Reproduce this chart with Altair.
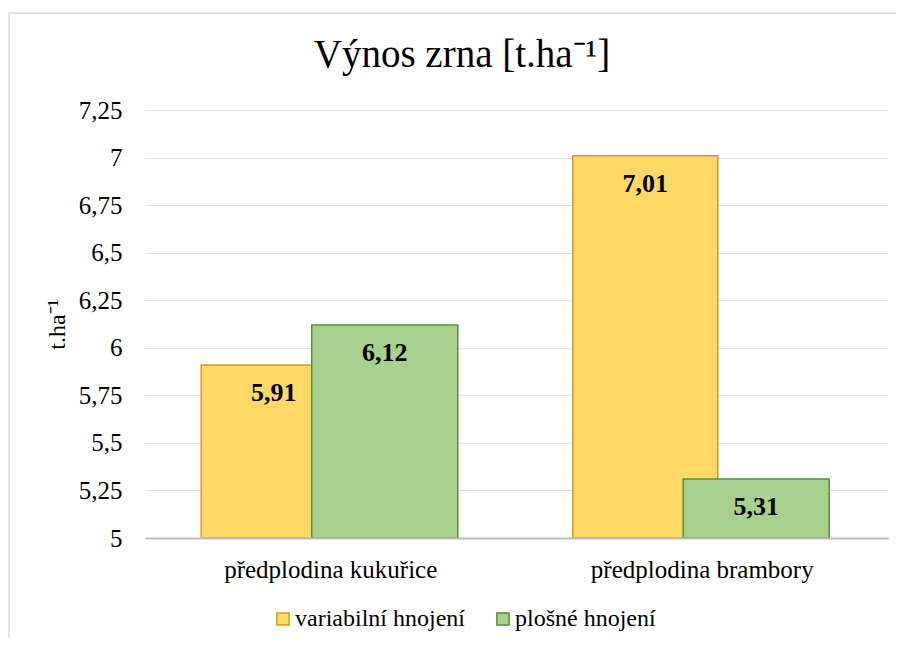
import altair as alt
import pandas as pd

title_text = "Výnos zrna [t.ha⁻¹]"
y_title = "t.ha⁻¹"
categories = ["předplodina kukuřice", "předplodina brambory"]
series = ["variabilní hnojení", "plošné hnojení"]
variabilni = [5.91, 7.01]
plosne = [6.12, 5.31]
fills = ["#FFD966", "#A9D18E"]
strokes = ["#C9A01A", "#5B8C3A"]
y_ticks = [5, 5.25, 5.5, 5.75, 6, 6.25, 6.5, 6.75, 7, 7.25]

rows = []
for s, vals in zip(series, [variabilni, plosne]):
    for c, v in zip(categories, vals):
        rows.append({"kategorie": c, "rada": s, "hodnota": v,
                     "popisek": f"{v:.2f}".replace(".", ",")})
df = pd.DataFrame(rows)

FONT = "Liberation Serif"

x_enc = alt.X("kategorie:N", sort=categories,
              scale=alt.Scale(paddingInner=0, paddingOuter=0),
              axis=alt.Axis(title=None, labelAngle=0, ticks=False, domain=True,
                            domainColor="#bfbfbf", domainWidth=2, zindex=1,
                            labelFont=FONT, labelFontSize=25, labelColor="#000000",
                            labelPadding=19, labelLimit=0))
y_enc = alt.Y("hodnota:Q",
              scale=alt.Scale(domain=[5, 7.25], zero=False, nice=False),
              axis=alt.Axis(values=y_ticks, title=y_title,
                            labelExpr="replace(format(datum.value, '.2~f'), '.', ',')",
                            ticks=False, domain=False, grid=True,
                            gridColor="#e0e0e0", gridWidth=1,
                            labelFont=FONT, labelFontSize=25, labelColor="#000000",
                            labelPadding=23,
                            titleFont=FONT, titleFontSize=24, titleFontWeight="normal",
                            titleColor="#000000", titleX=-88, titleY=214,
                            titleAngle=270, titleAlign="center", titleBaseline="middle"))

legend = alt.Legend(orient="none", legendX=126, legendY=497, direction="horizontal",
                    title=None, symbolType="square", symbolSize=150,
                    symbolStrokeWidth=1.5, labelFont=FONT, labelFontSize=24,
                    labelColor="#000000", columnPadding=26, labelOffset=0,
                    labelLimit=0)
fill_enc = alt.Fill("rada:N", scale=alt.Scale(domain=series, range=fills), legend=legend)
stroke_enc = alt.Stroke("rada:N", scale=alt.Scale(domain=series, range=strokes), legend=legend)

base = alt.Chart(df)
one = alt.Chart(pd.DataFrame({"a": [0]}))

frame = one.mark_rect(
    fill="transparent", stroke="#d9d9d9", strokeWidth=1.5
).encode(x=alt.value(-136), x2=alt.value(900), y=alt.value(-97), y2=alt.value(700))

title = one.mark_text(
    font=FONT, fontSize=39, color="#000000", align="center", baseline="alphabetic"
).encode(x=alt.value(317), y=alt.value(-43), text=alt.value(title_text))

bars_v = base.transform_filter(alt.datum.rada == series[0]).mark_bar(
    width=145, xOffset=-57, strokeWidth=1.5
).encode(x=x_enc, y=y_enc, y2=alt.datum(5), fill=fill_enc, stroke=stroke_enc)

bars_p = base.transform_filter(alt.datum.rada == series[1]).mark_bar(
    width=146, xOffset=54, strokeWidth=1.5
).encode(x=x_enc, y=y_enc, y2=alt.datum(5), fill=fill_enc, stroke=stroke_enc)

text_v = base.transform_filter(alt.datum.rada == series[0]).mark_text(
    xOffset=-57, dy=28, font=FONT, fontSize=26, fontWeight="bold", color="#000000",
    baseline="middle"
).encode(x=x_enc, y=y_enc, text="popisek:N")

text_p = base.transform_filter(alt.datum.rada == series[1]).mark_text(
    xOffset=54, dy=28, font=FONT, fontSize=26, fontWeight="bold", color="#000000",
    baseline="middle"
).encode(x=x_enc, y=y_enc, text="popisek:N")

chart = alt.layer(frame, title, bars_v, bars_p, text_v, text_p).properties(
    width=743, height=428,
    autosize=alt.AutoSizeParams(type="none"),
    padding={"left": 137, "top": 102, "right": 8, "bottom": 100},
).configure(
    background="white", font=FONT,
    view=alt.ViewConfig(strokeWidth=0, stroke="transparent"),
    axis=alt.AxisConfig(labelFont=FONT, titleFont=FONT),
    legend=alt.LegendConfig(labelFont=FONT, titleFont=FONT),
)

chart.save("out.html", embed_options={"renderer": "svg", "actions": False})
